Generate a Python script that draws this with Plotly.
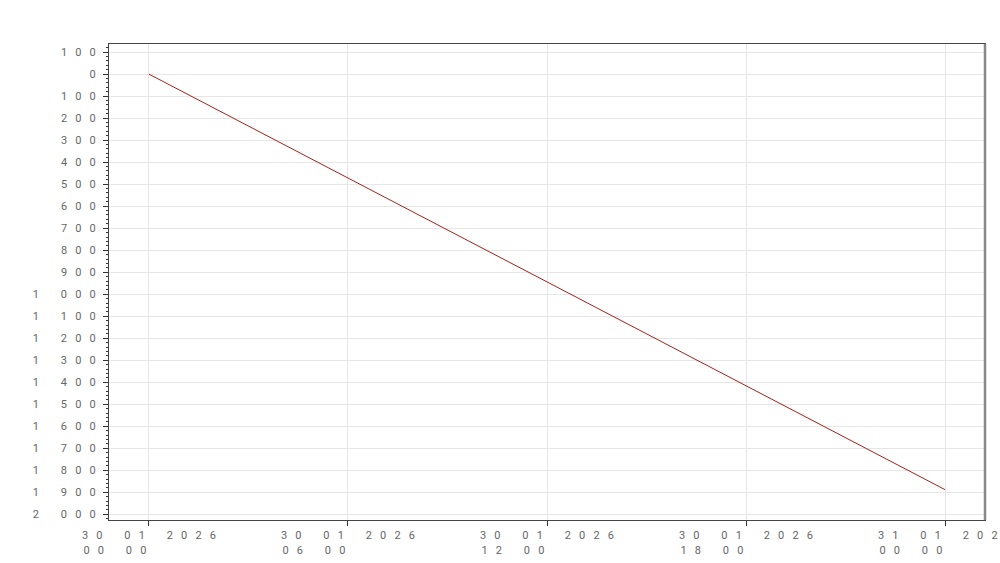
import plotly.graph_objects as go

# ---- data ----
x_times = ["2026-01-30 00:00", "2026-01-31 00:00"]
y_values = [0, -1888]

y_tick_values = [100, 0, -100, -200, -300, -400, -500, -600, -700, -800, -900,
                 -1000, -1100, -1200, -1300, -1400, -1500, -1600, -1700, -1800, -1900, -2000]
x_tick_values = ["2026-01-30 00:00", "2026-01-30 06:00", "2026-01-30 12:00",
                 "2026-01-30 18:00", "2026-01-31 00:00"]
x_tick_dates = ["30.01.2026", "30.01.2026", "30.01.2026", "30.01.2026", "31.01.2026"]
x_tick_clock = ["00:00", "06:00", "12:00", "18:00", "00:00"]

NB = "\u00a0"
BLANK = NB * 2
GAP = NB * 3


def spaced(s):
    chars = [c if c.isdigit() else BLANK for c in s]
    return GAP.join(chars)


def fmt_y(v):
    a = abs(v)
    s = f"{a:,}".replace(",", " ")
    return spaced(s)


y_tick_text = [fmt_y(v) for v in y_tick_values]


def fmt_x(d, t):
    l1 = spaced(d)
    l2 = spaced(t)
    pad = (len(d) - len(t))
    l2 = l2 + (GAP + BLANK) * pad
    return l1 + "<br>" + l2


x_tick_text = [fmt_x(d, t) for d, t in zip(x_tick_dates, x_tick_clock)]

fig = go.Figure()
fig.add_trace(go.Scatter(x=x_times, y=y_values, mode="lines",
                         line=dict(color="#a8201a", width=1), showlegend=False,
                         hoverinfo="skip"))

font = dict(family="Roboto, Noto Sans, sans-serif", size=11, color="#666666")

fig.update_layout(
    width=1000, height=563,
    margin=dict(l=109, r=15, t=44, b=43, autoexpand=False),
    paper_bgcolor="white", plot_bgcolor="white",
    font=font,
)
fig.update_xaxes(
    type="date", automargin=False,
    range=["2026-01-29 22:47:40", "2026-01-31 01:12:20"],
    tickmode="array", tickvals=x_tick_values, ticktext=x_tick_text,
    ticks="outside", ticklen=5, tickcolor="#333333",
    showgrid=True, gridcolor="#e6e6e6", gridwidth=1,
    showline=True, linecolor="#444444", linewidth=1, mirror=True,
    zeroline=False, ticklabeloverflow="allow", tickfont=font,
)
fig.update_yaxes(
    automargin=False,
    range=[-2026, 137],
    tickmode="array", tickvals=y_tick_values, ticktext=y_tick_text,
    ticks="outside", ticklen=5, tickcolor="#333333", ticklabelstandoff=5,
    minor=dict(dtick=20, tick0=0, ticks="outside", ticklen=2, tickcolor="#333333", showgrid=False),
    showgrid=True, gridcolor="#e6e6e6", gridwidth=1,
    showline=True, linecolor="#444444", linewidth=1, mirror=True,
    zeroline=False, tickfont=font,
)
# right-side grey edge of the frame
fig.add_shape(type="line", xref="paper", yref="paper", x0=1, x1=1, y0=0, y1=1,
              line=dict(color="#888888", width=2.5))

fig.write_html(
    "out.html",
    config={"displayModeBar": False},
    post_script="document.body.style.margin='0';document.body.style.overflow='hidden';",
)
